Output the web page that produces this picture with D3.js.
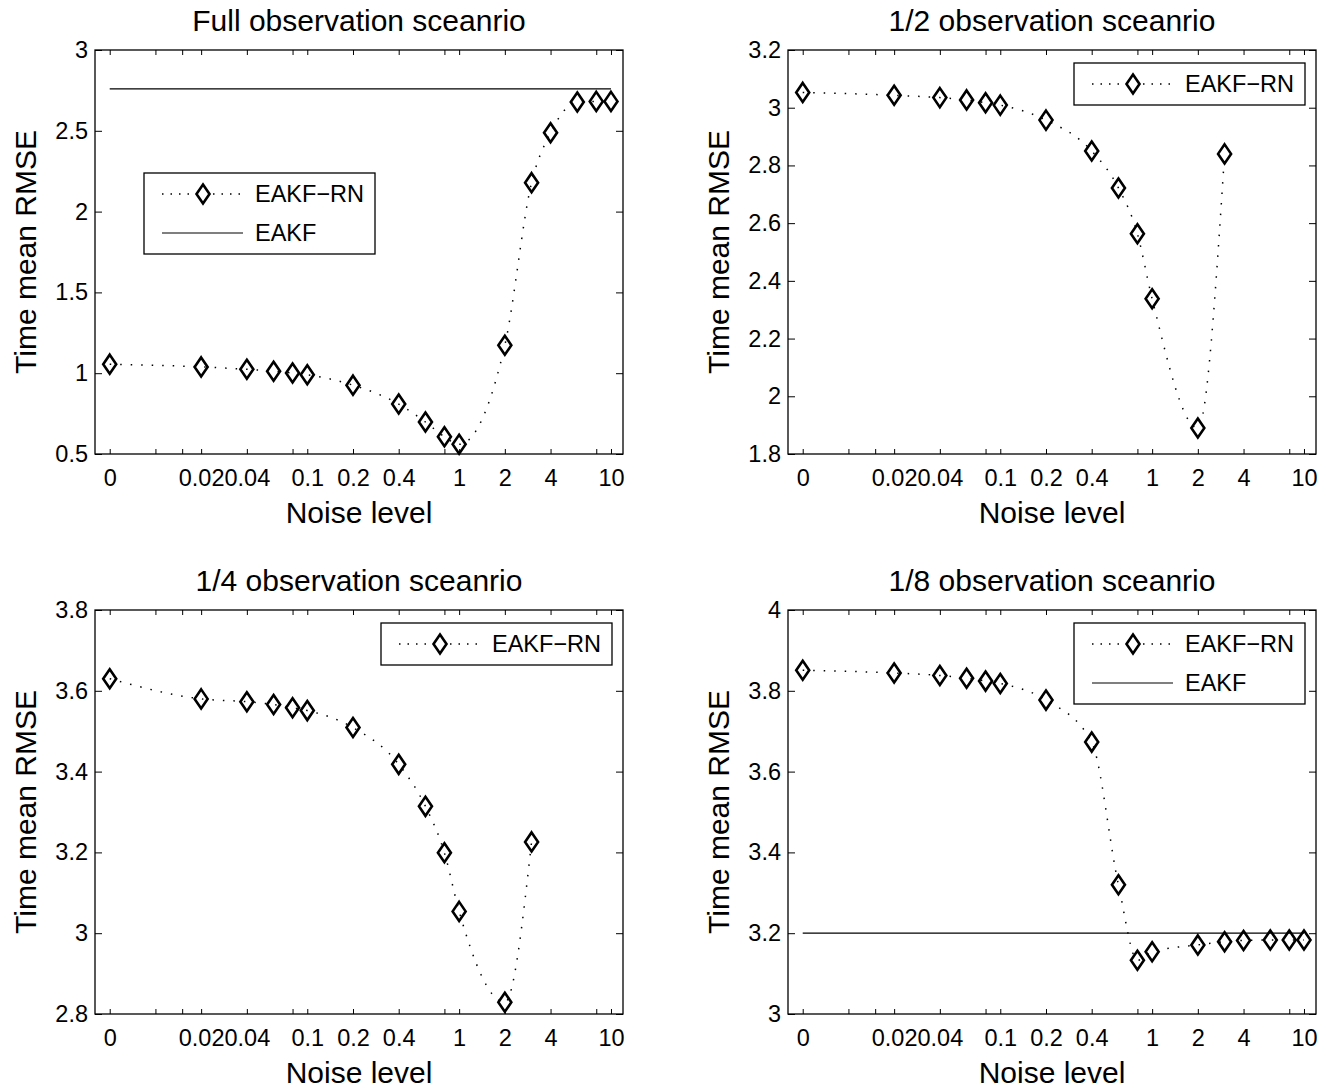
<!DOCTYPE html>
<html>
<head>
<meta charset="utf-8">
<script src="https://cdn.jsdelivr.net/npm/d3@7"></script>
<style>
body { margin: 0; background: #fff; }
text { font-family: "Liberation Sans", Arial, Helvetica, sans-serif; }
</style>
</head>
<body>
<div id="chart-area"></div>
<script>
const width = 1330;
const height = 1088;

// noise levels; "0" sits at 0.005 on the log axis
const noiseLevels = [0, 0.02, 0.04, 0.06, 0.08, 0.1, 0.2, 0.4, 0.6, 0.8, 1, 2, 3, 4, 6, 8, 10];
const xTickValues = [0, 0.01, 0.015, 0.02, 0.04, 0.08, 0.1, 0.2, 0.4, 0.8, 1, 2, 4, 8, 10];
const xTickLabels = ["0", "", "", "0.02", "0.04", "", "0.1", "0.2", "0.4", "", "1", "2", "4", "", "10"];

const titles = ["Full observation sceanrio", "1/2 observation sceanrio",
                "1/4 observation sceanrio", "1/8 observation sceanrio"];

const rmseFull    = [1.056, 1.039, 1.024, 1.012, 1.001, 0.990, 0.926, 0.809, 0.698, 0.607, 0.560, 1.173, 2.179, 2.488, 2.678, 2.682, 2.682];
const rmseHalf    = [3.053, 3.043, 3.035, 3.027, 3.017, 3.009, 2.957, 2.850, 2.722, 2.563, 2.338, 1.890, 2.840];
const rmseQuarter = [3.630, 3.580, 3.573, 3.566, 3.558, 3.551, 3.509, 3.418, 3.314, 3.199, 3.054, 2.829, 3.226];
const rmseEighth  = [3.851, 3.844, 3.838, 3.831, 3.824, 3.818, 3.777, 3.673, 3.320, 3.133, 3.154, 3.171, 3.179, 3.182, 3.183, 3.183, 3.183];

const eakfFull = 2.76;
const eakfEighth = 3.2;

const yTicksFull    = [0.5, 1, 1.5, 2, 2.5, 3];
const yTicksHalf    = [1.8, 2, 2.2, 2.4, 2.6, 2.8, 3, 3.2];
const yTicksQuarter = [2.8, 3, 3.2, 3.4, 3.6, 3.8];
const yTicksEighth  = [3, 3.2, 3.4, 3.6, 3.8, 4];

const plotW = 528;
const plotH = 404;
const zeroAt = 0.005;
const tickFont = 23.5;
const labelFont = 30;

const panels = [
    { title: titles[0], values: rmseFull, eakf: eakfFull, yTicks: yTicksFull, left: 95, top: 50, legendAt: [49, 123] },
    { title: titles[1], values: rmseHalf, eakf: null, yTicks: yTicksHalf, left: 788, top: 50, legendAt: null },
    { title: titles[2], values: rmseQuarter, eakf: null, yTicks: yTicksQuarter, left: 95, top: 610, legendAt: null },
    { title: titles[3], values: rmseEighth, eakf: eakfEighth, yTicks: yTicksEighth, left: 788, top: 610, legendAt: null }
];

const svg = d3.select("#chart-area")
    .append("svg")
    .attr("width", width)
    .attr("height", height)
    .style("background", "#fff");

const diamond = "M0,-9.5L6.5,0L0,9.5L-6.5,0Z";

function styleAxis(sel) {
    sel.select(".domain").remove();
    sel.attr("font-family", null).attr("font-size", tickFont);
    sel.selectAll(".tick line").attr("stroke", "#000").attr("stroke-width", 1);
    sel.selectAll(".tick text").attr("fill", "#000");
}

function drawPanel(p) {
    const g = svg.append("g")
        .attr("transform", `translate(${p.left}, ${p.top})`);

    const x = d3.scaleLog().domain([0.004, 12]).range([0, plotW]);
    const y = d3.scaleLinear().domain(d3.extent(p.yTicks)).range([plotH, 0]);
    const xPos = v => x(v === 0 ? zeroAt : v);
    const xt = xTickValues.map(v => v === 0 ? zeroAt : v);

    // axes, ticks pointing inward like matlab
    g.append("g")
        .attr("transform", `translate(0, ${plotH})`)
        .call(d3.axisBottom(x).tickValues(xt).tickSizeInner(-5).tickSizeOuter(0)
            .tickPadding(15).tickFormat((d, i) => xTickLabels[i]))
        .call(styleAxis);
    g.append("g")
        .call(d3.axisTop(x).tickValues(xt).tickSizeInner(-5).tickSizeOuter(0).tickFormat(""))
        .call(styleAxis);
    g.append("g")
        .call(d3.axisLeft(y).tickValues(p.yTicks).tickSizeInner(-7).tickSizeOuter(0)
            .tickPadding(7).tickFormat(d => String(d)))
        .call(styleAxis);
    g.append("g")
        .attr("transform", `translate(${plotW}, 0)`)
        .call(d3.axisRight(y).tickValues(p.yTicks).tickSizeInner(-7).tickSizeOuter(0).tickFormat(""))
        .call(styleAxis);

    g.append("rect")
        .attr("width", plotW)
        .attr("height", plotH)
        .attr("fill", "none")
        .attr("stroke", "#000")
        .attr("stroke-width", 1.3);

    // labels
    g.append("text")
        .attr("x", plotW / 2)
        .attr("y", -19)
        .attr("text-anchor", "middle")
        .attr("font-size", labelFont)
        .text(p.title);
    g.append("text")
        .attr("x", plotW / 2)
        .attr("y", plotH + 69)
        .attr("text-anchor", "middle")
        .attr("font-size", labelFont)
        .text("Noise level");
    g.append("text")
        .attr("transform", `translate(-59, ${plotH / 2}) rotate(-90)`)
        .attr("text-anchor", "middle")
        .attr("font-size", labelFont)
        .text("Time mean RMSE");

    const pts = p.values.map((v, i) => [noiseLevels[i], v]);

    if (p.eakf !== null) {
        g.append("line")
            .attr("x1", xPos(0))
            .attr("x2", xPos(10))
            .attr("y1", y(p.eakf))
            .attr("y2", y(p.eakf))
            .attr("stroke", "#000")
            .attr("stroke-width", 1.2);
    }

    const line = d3.line()
        .x(d => xPos(d[0]))
        .y(d => y(d[1]))
        .curve(d3.curveMonotoneX);

    g.append("path")
        .datum(pts)
        .attr("d", line)
        .attr("fill", "none")
        .attr("stroke", "#000")
        .attr("stroke-width", 1.5)
        .attr("stroke-dasharray", "1.5,9");

    g.selectAll(".mark")
        .data(pts)
        .enter().append("path")
        .attr("class", "mark")
        .attr("d", diamond)
        .attr("transform", d => `translate(${xPos(d[0])}, ${y(d[1])})`)
        .attr("fill", "none")
        .attr("stroke", "#000")
        .attr("stroke-width", 2.6);

    // legend
    const entries = p.eakf !== null ? ["EAKF\u2212RN", "EAKF"] : ["EAKF\u2212RN"];
    const boxW = 231;
    const rowH = 39;
    const boxH = entries.length * rowH + 3;
    const lp = p.legendAt || [plotW - 11 - boxW, 13];
    const lg = g.append("g").attr("transform", `translate(${lp[0]}, ${lp[1]})`);

    lg.append("rect")
        .attr("width", boxW)
        .attr("height", boxH)
        .attr("fill", "#fff")
        .attr("stroke", "#000")
        .attr("stroke-width", 1.3);

    entries.forEach((name, i) => {
        const cy = 21 + i * rowH;
        lg.append("line")
            .attr("x1", 18).attr("x2", 99)
            .attr("y1", cy).attr("y2", cy)
            .attr("stroke", "#000")
            .attr("stroke-width", i === 0 ? 1.5 : 1.2)
            .attr("stroke-dasharray", i === 0 ? "1.5,7" : null);
        if (i === 0) {
            lg.append("path")
                .attr("d", diamond)
                .attr("transform", `translate(59, ${cy})`)
                .attr("fill", "#fff")
                .attr("stroke", "#000")
                .attr("stroke-width", 2.6);
        }
        lg.append("text")
            .attr("x", 111)
            .attr("y", cy)
            .attr("dy", "0.35em")
            .attr("font-size", tickFont)
            .text(name);
    });
}

panels.forEach(drawPanel);
</script>
</body>
</html>
